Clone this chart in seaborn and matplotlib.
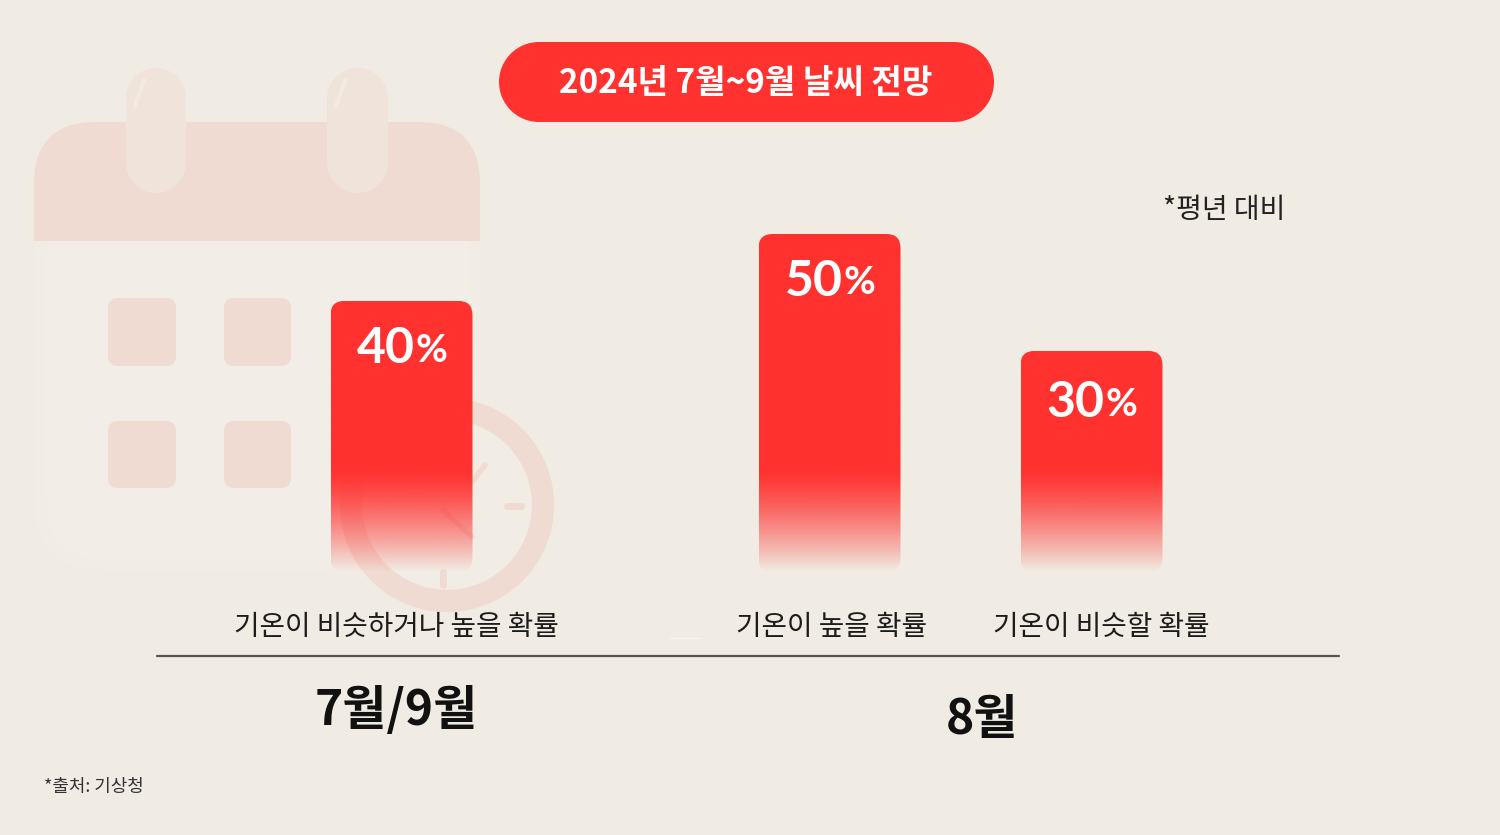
import matplotlib
matplotlib.use("Agg")
import matplotlib.pyplot as plt
from matplotlib.patches import Circle, FancyBboxPatch, Rectangle
import numpy as np
import seaborn as sns

# values as drawn in the picture (the 30% bar is drawn a bit taller than its label)
left_categories = ["기온이 비슷하거나 높을 확률"]
left_heights = [40.1]
left_labels = ["40", ]
right_categories = ["기온이 높을 확률", "기온이 비슷할 확률"]
right_heights = [50.0, 32.7]
right_labels = ["50", "30"]

title = "2024년 7월~9월 날씨 전망"
note = "*평년 대비"
source = "*출처: 기상청"

BG = "#F0ECE3"
RED = "#FF3230"
SOFT = "#EFDBD2"
BODY = "#F2EEE7"
PEG = "#F0E3D9"
W, H = 1500, 835
PX_PER_UNIT = 6.76

sns.set_theme(style="white")
plt.rcParams["font.family"] = ["Noto Sans CJK KR", "DejaVu Sans"]

fig = plt.figure(figsize=(15, 8.35), dpi=100, facecolor=BG)

# background axes in pixel coordinates, for the faded calendar and clock
bg = fig.add_axes([0, 0, 1, 1], zorder=0)
bg.set_xlim(0, W)
bg.set_ylim(H, 0)
bg.set_axis_off()


def rounded(x0, y0, x1, y1, r, color, z=1):
    p = FancyBboxPatch((x0, y0), x1 - x0, y1 - y0, boxstyle=f"round,pad=0,rounding_size={r}",
                       fc=color, ec="none", zorder=z)
    bg.add_patch(p)
    return p


def capsule_h(x0, y0, x1, y1, color, z):
    r = (y1 - y0) / 2
    bg.add_patch(Rectangle((x0 + r, y0), x1 - x0 - 2 * r, y1 - y0, fc=color, ec="none", zorder=z))
    bg.add_patch(Circle((x0 + r, y0 + r), r, fc=color, ec="none", zorder=z))
    bg.add_patch(Circle((x1 - r, y0 + r), r, fc=color, ec="none", zorder=z))


def capsule_v(x0, y0, x1, y1, color, z):
    r = (x1 - x0) / 2
    bg.add_patch(Rectangle((x0, y0 + r), x1 - x0, y1 - y0 - 2 * r, fc=color, ec="none", zorder=z))
    bg.add_patch(Circle((x0 + r, y0 + r), r, fc=color, ec="none", zorder=z))
    bg.add_patch(Circle((x0 + r, y1 - r), r, fc=color, ec="none", zorder=z))


# calendar
rounded(34, 180, 480, 571, 70, "#F1EDE5", 1)
rounded(46, 190, 470, 560, 60, BODY, 1.5)
head = rounded(34, 122, 480, 300, 62, SOFT, 2)
clip = Rectangle((0, 0), W, 241, transform=bg.transData)
head.set_clip_path(clip)
for x0, x1 in [(126, 186), (327, 388)]:
    capsule_v(x0, 68, x1, 193, PEG, 3)
    bg.plot([x0 + 9, x0 + 18], [106, 80], color="#F3EAE2", lw=3, solid_capstyle="round", zorder=3.5)
for x0, x1 in [(108, 176), (224, 291)]:
    for y0, y1 in [(298, 366), (421, 488)]:
        rounded(x0, y0, x1, y1, 10, SOFT, 3)

# clock
bg.add_patch(Circle((447, 505), 96, fc="#F1EDE5", ec=SOFT, lw=16, zorder=4))
bg.plot([507, 521], [506, 506], color=SOFT, lw=5, solid_capstyle="round", zorder=5)
bg.plot([443, 443], [572, 585], color=SOFT, lw=5, solid_capstyle="round", zorder=5)
bg.plot([472, 485], [482, 465], color=SOFT, lw=4, solid_capstyle="round", zorder=5)
bg.plot([443, 472], [510, 537], color=SOFT, lw=4, solid_capstyle="round", zorder=5)

# title pill and baseline
capsule_h(499, 42, 994, 122, RED, 6)
bg.plot([157, 1339], [655.5, 655.5], color="#57544C", lw=1.6, zorder=6)
bg.plot([670, 700], [637.5, 637.5], color="#F8F6F1", lw=1, zorder=6)


def bar_axes(x0, x1, categories, heights, labels, offsets):
    ax = fig.add_axes([x0 / W, (H - 572) / H, (x1 - x0) / W, 400 / H], zorder=1)
    ax.patch.set_alpha(0)
    sns.barplot(x=categories, y=heights, color=RED, saturation=1, width=142 / 262, ax=ax)
    ax.set_xlim(-0.5, len(categories) - 0.5)
    ax.set_ylim(0, 400 / PX_PER_UNIT)
    ax.set_axis_off()

    r = 14
    rx = r / 262
    ry = r / PX_PER_UNIT
    yy = np.linspace(0, 60, 600)
    rgba = np.zeros((600, 1, 4))
    rgba[:, :, :3] = matplotlib.colors.to_rgb(RED)
    rgba[:, 0, 3] = 1 - (1 - np.clip(yy / 15, 0, 1)) ** 1.3

    for patch, label, off in zip(ax.patches, labels, offsets):
        x, w, h = patch.get_x(), patch.get_width(), patch.get_height()
        patch.set_visible(False)
        box = FancyBboxPatch((x, 0), w, h, boxstyle=f"round,pad=0,rounding_size={rx}",
                             mutation_aspect=ry / rx, transform=ax.transData,
                             fc="none", ec="none")
        ax.add_patch(box)
        n = int(h / 60 * 600)
        im = ax.imshow(rgba[:n], extent=(x, x + w, 0, yy[n - 1]), origin="lower",
                       aspect="auto", interpolation="bilinear", zorder=2)
        im.set_clip_path(box)
        cx = x + w / 2
        ax.annotate(label, (cx, h), xytext=(13 * 0.72, -(off + 4) * 0.72), textcoords="offset points",
                    ha="right", va="center", color="white", fontsize=36, fontweight="bold",
                    family="Lato", zorder=3)
        ax.annotate("%", (cx, h), xytext=(14 * 0.72, -(off + 6) * 0.72), textcoords="offset points",
                    ha="left", va="center", color="white", fontsize=28, fontweight="bold",
                    family="Lato", zorder=3)
    ax.set_xlim(-0.5, len(categories) - 0.5)
    ax.set_ylim(0, 400 / PX_PER_UNIT)
    return ax


bar_axes(270.5, 532.5, left_categories, left_heights, left_labels, [44])
bar_axes(698.5, 1222.5, right_categories, right_heights, right_labels, [43, 48])


def label(x, y, s, size, weight="normal", color="#1c1c1c", ha="center"):
    fig.text(x / W, 1 - y / H, s, fontsize=size, fontweight=weight, color=color,
             ha=ha, va="center", zorder=10)


label(746, 84, title, 23.9, "bold", "white")
label(396, 627, left_categories[0], 20)
label(831, 627, right_categories[0], 20)
label(1101, 627, right_categories[1], 20)
label(396.5, 711, "7월/9월", 34.5, "bold", "#111111")
label(981.5, 720, "8월", 34.5, "bold", "#111111")
label(1224, 210, note, 20.2, "normal", "#222222")
label(44, 787, source, 12.9, "normal", "#333333", ha="left")

fig.savefig("out.png", dpi=100, facecolor=BG)
